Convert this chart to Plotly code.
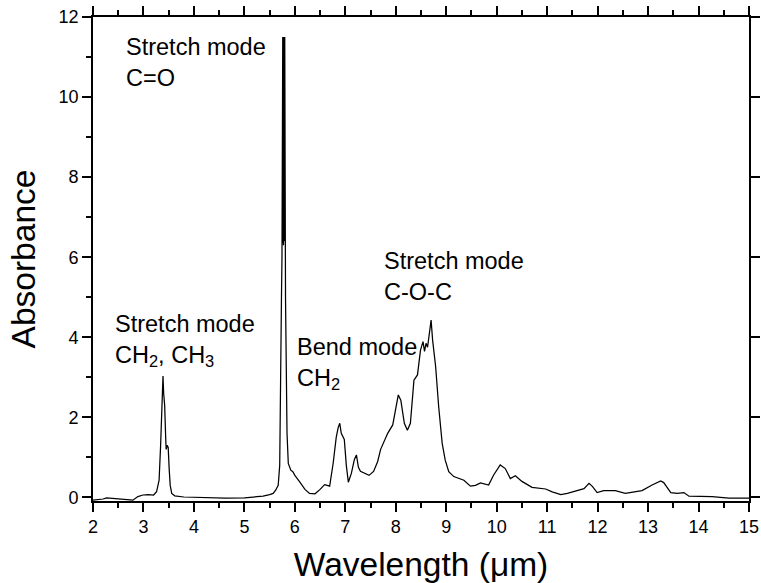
import plotly.graph_objects as go

# Spectrum
wavelength_um = [
    2.00, 2.10, 2.20, 2.27, 2.35, 2.45, 2.60, 2.79, 2.89, 2.99,
    3.10, 3.20, 3.26, 3.31, 3.34, 3.365, 3.387, 3.40, 3.42, 3.44,
    3.45, 3.47, 3.49, 3.51, 3.53, 3.56, 3.62, 3.80, 4.00, 4.30,
    4.62, 5.00, 5.21, 5.37, 5.50, 5.57, 5.62, 5.67, 5.70, 5.72,
    5.735, 5.745, 5.75, 5.755, 5.76, 5.765, 5.77, 5.775, 5.78, 5.785,
    5.79, 5.795, 5.80, 5.815, 5.83, 5.845, 5.87, 5.92, 5.96, 6.00,
    6.10, 6.20, 6.29, 6.40, 6.50, 6.59, 6.64, 6.69, 6.76, 6.82,
    6.86, 6.89, 6.92, 6.95, 6.98, 7.02, 7.06, 7.12, 7.18, 7.22,
    7.26, 7.30, 7.38, 7.47, 7.56, 7.64, 7.70, 7.78, 7.84, 7.94,
    8.00, 8.05, 8.10, 8.17, 8.23, 8.29, 8.36, 8.43, 8.49, 8.54,
    8.57, 8.60, 8.63, 8.67, 8.70, 8.73, 8.79, 8.85, 8.92, 8.98,
    9.05, 9.15, 9.35, 9.48, 9.58, 9.68, 9.76, 9.84, 9.94, 10.07,
    10.17, 10.27, 10.37, 10.50, 10.70, 10.97, 11.10, 11.27, 11.40, 11.56,
    11.73, 11.83, 11.90, 11.99, 12.12, 12.35, 12.55, 12.70, 12.88, 13.08,
    13.25, 13.31, 13.45, 13.58, 13.71, 13.81, 14.01, 14.27, 14.60, 14.96,
    15.00,
]
absorbance = [
    -0.07, -0.06, -0.04, -0.01, -0.02, -0.04, -0.06, -0.07, 0.02, 0.06,
    0.07, 0.06, 0.14, 0.43, 1.30, 2.40, 3.03, 2.60, 2.30, 1.50,
    1.20, 1.30, 1.25, 0.70, 0.30, 0.10, 0.04, 0.01, 0.00, -0.01,
    -0.02, -0.01, 0.01, 0.03, 0.07, 0.10, 0.18, 0.30, 0.80, 2.50,
    5.00, 6.00, 11.50, 6.20, 11.50, 6.50, 11.50, 6.30, 11.50, 6.80,
    11.50, 6.40, 11.50, 5.00, 3.00, 1.60, 0.85, 0.68, 0.64, 0.55,
    0.38, 0.20, 0.10, 0.09, 0.20, 0.32, 0.30, 0.28, 0.86, 1.50,
    1.75, 1.85, 1.60, 1.50, 1.45, 0.80, 0.38, 0.60, 0.95, 1.06,
    0.75, 0.65, 0.60, 0.55, 0.65, 0.89, 1.20, 1.45, 1.60, 1.81,
    2.18, 2.56, 2.43, 1.85, 1.68, 1.85, 2.93, 3.06, 3.68, 3.89,
    3.65, 3.85, 3.75, 4.22, 4.43, 3.93, 3.27, 2.27, 1.35, 0.93,
    0.64, 0.52, 0.43, 0.28, 0.30, 0.36, 0.33, 0.31, 0.56, 0.81,
    0.72, 0.47, 0.54, 0.40, 0.25, 0.21, 0.14, 0.07, 0.10, 0.15,
    0.22, 0.35, 0.27, 0.12, 0.17, 0.17, 0.10, 0.13, 0.17, 0.31,
    0.41, 0.37, 0.12, 0.10, 0.12, 0.03, 0.02, 0.02, -0.02, -0.02,
    -0.02,
]

x_range = [2, 15]
y_range = [-0.09, 12.0]
x_ticks = list(range(2, 16))
y_ticks = [0, 2, 4, 6, 8, 10, 12]

labels = [
    ("Stretch mode<br>C=O", 2.62, 11.62),
    ("Stretch mode<br>CH<sub>2</sub>, CH<sub>3</sub>", 2.40, 4.70),
    ("Bend mode<br>CH<sub>2</sub>", 6.01, 4.12),
    ("Stretch mode<br>C-O-C", 7.73, 6.27),
]

FONT = "Arial, Liberation Sans, sans-serif"

fig = go.Figure()
fig.add_trace(go.Scatter(x=wavelength_um, y=absorbance, mode="lines",
                         line=dict(color="black", width=1.25),
                         showlegend=False, hoverinfo="skip"))
# invisible twin to carry the right-hand axis
fig.add_trace(go.Scatter(x=wavelength_um, y=absorbance, mode="lines",
                         yaxis="y2", line=dict(color="rgba(0,0,0,0)", width=0),
                         showlegend=False, hoverinfo="skip"))

for text, xv, yv in labels:
    fig.add_annotation(x=xv, y=yv, xref="x", yref="y", text=text,
                       showarrow=False, xanchor="left", yanchor="top",
                       align="left", font=dict(family=FONT, size=23.5, color="black"))

axis_common = dict(showgrid=False, zeroline=False, showline=True,
                   linecolor="black", linewidth=1.6, ticks="outside",
                   tickcolor="black", tickwidth=1.5, ticklen=9,
                   automargin=False, ticklabeloverflow="allow")

fig.update_layout(
    width=761, height=583,
    margin=dict(l=93, r=12, t=17, b=82, autoexpand=False),
    paper_bgcolor="white", plot_bgcolor="white",
    font=dict(family=FONT, color="black"),
    xaxis=dict(**axis_common, range=x_range, tickvals=x_ticks,
               mirror="ticks",
               minor=dict(ticks="outside", dtick=0.5, ticklen=5,
                          tickcolor="black", tickwidth=1.5),
               tickfont=dict(size=18, family=FONT),
               title=dict(text="Wavelength (\u03bcm)", standoff=17,
                          font=dict(size=33.5, family=FONT))),
    yaxis=dict(**axis_common, range=y_range, tickvals=y_ticks,
               minor=dict(ticks="outside", dtick=1, ticklen=5,
                          tickcolor="black", tickwidth=1.5),
               tickfont=dict(size=18, family=FONT),
               title=dict(text="Absorbance", standoff=13,
                          font=dict(size=33.5, family=FONT))),
    yaxis2=dict(**axis_common, range=y_range, tickvals=y_ticks,
                overlaying="y", side="right", anchor="x",
                showticklabels=False),
)

fig.write_html("out.html",
               config={"displayModeBar": False},
               post_script="document.body.style.margin='0';"
                           "document.body.style.overflow='hidden';")
